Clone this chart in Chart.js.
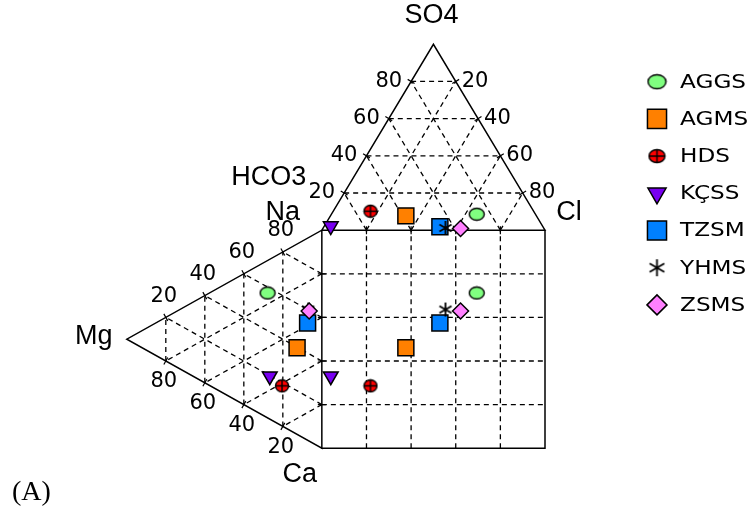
<!DOCTYPE html>
<html>
<head>
<meta charset="utf-8">
<script src="https://cdn.jsdelivr.net/npm/chart.js"></script>
<style>
  html, body { margin: 0; padding: 0; background: #fff; }
  #wrap { width: 753px; height: 510px; }
</style>
</head>
<body>
<div id="wrap"><canvas id="myChart" width="753" height="510"></canvas></div>
<script>
// samples, in legend order
const samples = ['AGGS', 'AGMS', 'HDS', 'KÇSS', 'TZSM', 'YHMS', 'ZSMS'];
// anions (% meq), HCO3 is the rest
const so4 = [8.6, 7.7, 10.2, 2.2, 1.8, 1.2, 0.9];
const cl  = [65.1, 33.8, 16.7, 2.9, 52.0, 54.8, 61.7];
// cations (% meq), Ca is the rest
const mg = [27.8, 12.7, 20.4, 26.7, 7.3, 7.0, 6.5];
const na = [57.3, 39.7, 18.4, 19.7, 53.8, 60.1, 59.7];
// grid / tick values
const gridVals = [20, 40, 60, 80];

const colors = ['rgb(128,255,128)', 'rgb(255,128,0)', 'rgb(255,0,0)', 'rgb(120,0,240)',
                'rgb(0,128,255)', '#000', 'rgb(255,128,255)'];

// triangle sizes in axis units (square is 0..100 both ways)
const TOP_H = 85.3, LEFT_W = 87.4;
function topXY(s, c) { return {x: c + s / 2, y: 100 + s * TOP_H / 100}; }
function leftXY(m, n) { return {x: -m * LEFT_W / 100, y: n + m / 2}; }

// custom markers
function ellipseMark(w, h, fill, cross) {
  const c = document.createElement('canvas');
  c.width = w + 2; c.height = h + 2;
  const g = c.getContext('2d');
  const cx = c.width / 2, cy = c.height / 2;
  g.beginPath();
  g.ellipse(cx, cy, w / 2 - 0.5, h / 2 - 0.5, 0, 0, Math.PI * 2);
  g.fillStyle = fill; g.fill();
  g.lineWidth = 1.4; g.strokeStyle = '#000'; g.stroke();
  if (cross) {
    g.beginPath();
    g.moveTo(cx, 1.5); g.lineTo(cx, c.height - 1.5);
    g.moveTo(1.5, cy); g.lineTo(c.width - 1.5, cy);
    g.stroke();
  }
  return c;
}
function starMark(s) {
  const c = document.createElement('canvas');
  c.width = c.height = s + 2;
  const g = c.getContext('2d');
  const m = c.width / 2, r = s / 2;
  g.strokeStyle = '#000'; g.lineWidth = 1.8;
  g.beginPath();
  [90, 30, 150].forEach(a => {
    const dx = Math.cos(a * Math.PI / 180) * r, dy = Math.sin(a * Math.PI / 180) * r;
    g.moveTo(m - dx, m - dy); g.lineTo(m + dx, m + dy);
  });
  g.stroke();
  return c;
}

const styles = [
  {pointStyle: ellipseMark(16, 13, colors[0]), radius: 7, legendStyle: ellipseMark(19, 15, colors[0])},
  {pointStyle: 'rect', radius: 11.3, legend: 13.5},
  {pointStyle: ellipseMark(14, 13, colors[2], true), radius: 7, legendStyle: ellipseMark(17, 14, colors[2], true)},
  {pointStyle: 'triangle', radius: 8.5, rotation: 180, legend: 10.5},
  {pointStyle: 'rect', radius: 11.3, legend: 13.5},
  {pointStyle: starMark(14), radius: 7, legendStyle: starMark(17)},
  {pointStyle: 'rectRot', radius: 8, legend: 10}
];

const datasets = samples.map((name, i) => {
  const t = topXY(so4[i], cl[i]);
  const l = leftXY(mg[i], na[i]);
  return {
    label: name,
    data: [t, {x: t.x, y: l.y}, l],
    backgroundColor: colors[i],
    borderColor: '#000',
    borderWidth: 1.5,
    pointStyle: styles[i].pointStyle,
    pointRadius: styles[i].radius,
    pointRotation: styles[i].rotation || 0,
    order: samples.length - i,
    clip: false
  };
});

const durovFrame = {
  id: 'durovFrame',
  beforeDatasetsDraw(chart) {
    const {ctx, scales: {x, y}} = chart;
    const P = p => [x.getPixelForValue(p.x), y.getPixelForValue(p.y)];
    const seg = (a, b) => { ctx.beginPath(); ctx.moveTo(...P(a)); ctx.lineTo(...P(b)); ctx.stroke(); };
    ctx.save();
    ctx.strokeStyle = '#000';

    // dashed grid
    ctx.lineWidth = 1.3;
    ctx.setLineDash([5, 4]);
    gridVals.forEach(k => {
      seg({x: k, y: 0}, {x: k, y: 100});
      seg({x: 0, y: k}, {x: 100, y: k});
      seg(topXY(k, 0), topXY(k, 100 - k));
      seg(topXY(0, k), topXY(100 - k, k));
      seg(topXY(0, 100 - k), topXY(100 - k, 0));
      seg(leftXY(k, 0), leftXY(k, 100 - k));
      seg(leftXY(0, k), leftXY(100 - k, k));
      seg(leftXY(0, 100 - k), leftXY(100 - k, 0));
    });

    // solid outlines
    ctx.setLineDash([]);
    ctx.lineWidth = 1.5;
    const polys = [
      [{x: 0, y: 0}, {x: 100, y: 0}, {x: 100, y: 100}, {x: 0, y: 100}],
      [topXY(0, 0), topXY(0, 100), topXY(100, 0)],
      [leftXY(0, 0), leftXY(0, 100), leftXY(100, 0)]
    ];
    ctx.beginPath();
    polys.forEach(pts => {
      pts.forEach((p, j) => j ? ctx.lineTo(...P(p)) : ctx.moveTo(...P(p)));
      ctx.closePath();
    });
    ctx.stroke();

    // small ticks across the triangle edges
    ctx.lineWidth = 1.2;
    ctx.beginPath();
    polys.slice(1).forEach(pts => {
      for (let j = 0; j < 3; j++) {
        const a = P(pts[j]), b = P(pts[(j + 1) % 3]);
        const len = Math.hypot(b[0] - a[0], b[1] - a[1]);
        const nx = -(b[1] - a[1]) / len * 4, ny = (b[0] - a[0]) / len * 4;
        gridVals.forEach(k => {
          const px = a[0] + (b[0] - a[0]) * k / 100, py = a[1] + (b[1] - a[1]) * k / 100;
          ctx.moveTo(px - nx, py - ny); ctx.lineTo(px + nx, py + ny);
        });
      }
    });
    ctx.stroke();

    // tick labels
    ctx.fillStyle = '#000';
    ctx.font = '21px "DejaVu Sans", sans-serif';
    ctx.textBaseline = 'middle';
    gridVals.forEach(k => {
      let p = P(topXY(k, 0));
      ctx.textAlign = 'right';
      ctx.fillText(String(k), p[0] - 9, p[1]);
      p = P(topXY(k, 100 - k));
      ctx.textAlign = 'left';
      ctx.fillText(String(100 - k), p[0] + 6, p[1]);
      ctx.textAlign = 'center';
      p = P(leftXY(k, 100 - k));
      ctx.fillText(String(100 - k), p[0] - 2, p[1] - 21);
      p = P(leftXY(k, 0));
      ctx.fillText(String(k), p[0] - 2, p[1] + 21);
    });

    // component names
    ctx.font = '27px "Liberation Sans", Arial, sans-serif';
    ctx.textAlign = 'center';
    const apex = P(topXY(100, 0)), clv = P(topXY(0, 100)), nav = P({x: 0, y: 100});
    const mgv = P(leftXY(100, 0)), cav = P({x: 0, y: 0});
    ctx.fillText('SO4', apex[0] - 2, apex[1] - 29);
    ctx.fillText('Cl', clv[0] + 24, clv[1] - 18);
    ctx.fillText('HCO3', nav[0] - 53, nav[1] - 53);
    ctx.fillText('Na', nav[0] - 39, nav[1] - 18);
    ctx.fillText('Mg', mgv[0] - 33, mgv[1] - 3);
    ctx.fillText('Ca', cav[0] - 22, cav[1] + 26);

    ctx.font = '28px "Liberation Serif", "Times New Roman", serif';
    ctx.textAlign = 'left';
    ctx.textBaseline = 'alphabetic';
    ctx.fillText('(A)', 12, 500);
    ctx.restore();
  },
  afterDraw(chart) {
    const ctx = chart.ctx;
    ctx.save();
    chart.data.datasets.forEach((ds, i) => {
      const yy = 81.7 + i * 37.2;
      ctx.fillStyle = ds.backgroundColor;
      ctx.strokeStyle = '#000';
      ctx.lineWidth = 1.5;
      const st = styles[i];
      Chart.helpers.drawPoint(ctx, {
        pointStyle: st.legendStyle || st.pointStyle,
        radius: st.legend || st.radius,
        rotation: st.rotation || 0,
        borderWidth: 1.5
      }, 657, yy);
      // legend text is drawn a bit wider, like the original
      ctx.save();
      ctx.translate(680, yy + 1);
      ctx.scale(1.22, 1);
      ctx.fillStyle = '#000';
      ctx.font = '19px "DejaVu Sans", sans-serif';
      ctx.textAlign = 'left';
      ctx.textBaseline = 'middle';
      ctx.fillText(ds.label, 0, 0);
      ctx.restore();
    });
    ctx.restore();
  }
};

const config = {
  type: 'scatter',
  data: {datasets},
  options: {
    responsive: false,
    animation: false,
    devicePixelRatio: 1,
    events: [],
    layout: {padding: {left: 121, right: 208, top: 34, bottom: 40}},
    plugins: {legend: {display: false}, tooltip: {enabled: false}},
    scales: {
      x: {type: 'linear', min: -90, max: 100, display: false},
      y: {type: 'linear', min: -10, max: 190, display: false}
    }
  },
  plugins: [durovFrame]
};

const myChart = new Chart(document.getElementById('myChart'), config);
</script>
</body>
</html>
